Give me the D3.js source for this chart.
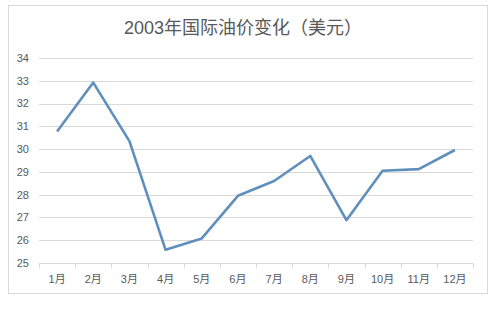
<!DOCTYPE html>
<html>
<head>
<meta charset="utf-8">
<script src="https://cdn.jsdelivr.net/npm/d3@7"></script>
<style>
  body { margin: 0; background: #fff; }
  text { font-family: "Liberation Sans", Arial, "Noto Sans CJK SC", sans-serif; }
</style>
</head>
<body>
<div id="chart"></div>
<script>
// data
var months = ["1月", "2月", "3月", "4月", "5月", "6月", "7月", "8月", "9月", "10月", "11月", "12月"];
var prices = [30.77, 32.92, 30.35, 25.58, 26.08, 27.95, 28.6, 29.7, 26.88, 29.05, 29.12, 29.96];
var yTicks = [25, 26, 27, 28, 29, 30, 31, 32, 33, 34];
var title = "2003年国际油价变化（美元）";

var width = 496, height = 316;
var plotLeft = 39, plotRight = 473, plotTop = 58, plotBottom = 263;

var svg = d3.select("#chart").append("svg")
    .attr("width", width)
    .attr("height", height);

// outer frame
svg.append("rect")
    .attr("x", 8.5).attr("y", 5.5)
    .attr("width", 479).attr("height", 288)
    .attr("fill", "#fff")
    .attr("stroke", "#d9d9d9");

var x = d3.scaleBand().domain(months).range([plotLeft, plotRight]);
var y = d3.scaleLinear().domain([25, 34]).range([plotBottom, plotTop]);

// gridlines
svg.append("g").selectAll("line")
    .data(yTicks.slice(1))
    .enter().append("line")
    .attr("x1", plotLeft).attr("x2", plotRight)
    .attr("y1", function(d) { return Math.round(y(d)) + 0.5; })
    .attr("y2", function(d) { return Math.round(y(d)) + 0.5; })
    .attr("stroke", "#d9d9d9");

// y labels
svg.append("g").selectAll("text")
    .data(yTicks)
    .enter().append("text")
    .attr("x", 29)
    .attr("y", function(d) { return y(d); })
    .attr("dy", "0.35em")
    .attr("text-anchor", "end")
    .attr("font-size", 11)
    .attr("fill", "#595959")
    .text(function(d) { return d; });

// x axis
var xAxis = svg.append("g")
    .attr("transform", "translate(0," + (plotBottom + 0.5) + ")");
xAxis.append("line")
    .attr("x1", plotLeft).attr("x2", plotRight)
    .attr("stroke", "#d9d9d9");
xAxis.selectAll(".tk")
    .data(months.concat(["end"]))
    .enter().append("line")
    .attr("class", "tk")
    .attr("x1", function(d, i) { return Math.round(plotLeft + i * x.step()) + 0.5; })
    .attr("x2", function(d, i) { return Math.round(plotLeft + i * x.step()) + 0.5; })
    .attr("y1", 0).attr("y2", 5)
    .attr("stroke", "#d9d9d9");
xAxis.selectAll(".lbl")
    .data(months)
    .enter().append("text")
    .attr("class", "lbl")
    .attr("x", function(d) { return x(d) + x.bandwidth() / 2; })
    .attr("y", 16)
    .attr("dy", "0.35em")
    .attr("text-anchor", "middle")
    .attr("font-size", 11)
    .attr("fill", "#595959")
    .text(function(d) { return d; });

// the line
var line = d3.line()
    .x(function(d, i) { return x(months[i]) + x.bandwidth() / 2; })
    .y(function(d) { return y(d); });

svg.append("path")
    .datum(prices)
    .attr("d", line)
    .attr("fill", "none")
    .attr("stroke", "#5f8fbd")
    .attr("stroke-width", 2.6)
    .attr("stroke-linejoin", "round");

// title
svg.append("text")
    .attr("x", 243)
    .attr("y", 28)
    .attr("dy", "0.35em")
    .attr("text-anchor", "middle")
    .attr("font-size", 18)
    .attr("fill", "#595959")
    .text(title);
</script>
</body>
</html>
